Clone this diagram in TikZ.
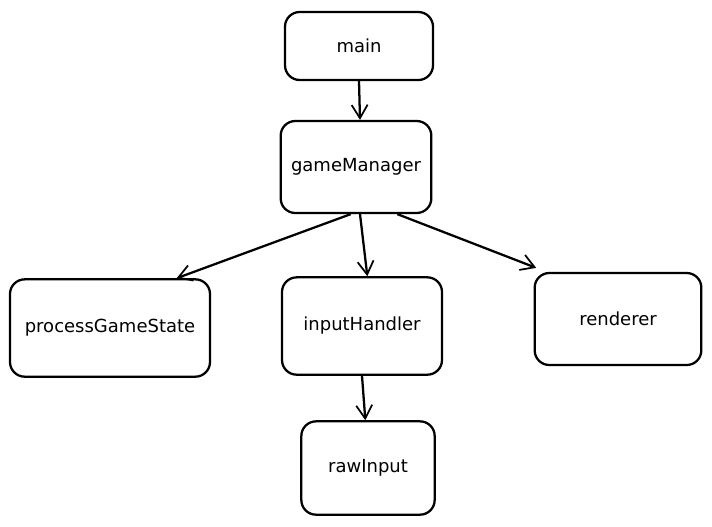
\documentclass[tikz,border=0pt]{standalone}
\usepackage{fontspec}
\setmainfont{DejaVu Sans}
\usepackage{tikz}
\usetikzlibrary{positioning,arrows.meta}
\tikzset{every picture/.style={line width=1.7pt}}
\tikzset{box/.style={draw,rounded corners=11pt,inner sep=0pt,font=\fontsize{13.5}{16}\selectfont},
  arr/.style={-{Straight Barb[length=10pt,width=12pt,line width=1.3pt]}}}

\begin{document}
\begin{tikzpicture}[x=0.75pt,y=0.75pt,yscale=-1,xscale=1]

\useasboundingbox (0,0) rectangle (712,526);

% Text Node
\node [box,minimum width=111pt,minimum height=51pt] (main) at (359,46) {main};
% Text Node
\node [box,minimum width=113pt,minimum height=69pt] (gm) at (356,167) {gameManager};
% Text Node
\node [box,minimum width=150pt,minimum height=73pt] (pgs) at (110,328) {processGameState};
% Text Node
\node [box,minimum width=120pt,minimum height=73pt] (ih) at (362,326) {inputHandler};
% Text Node
\node [box,minimum width=125pt,minimum height=69pt] (rend) at (618,319) {renderer};
% Text Node
\node [box,minimum width=100pt,minimum height=70pt] (raw) at (368,468) {rawInput};

%Straight Lines
\draw [arr] (main.south) -- ([xshift=3pt]gm.north);
%Straight Lines
\draw [arr] ([xshift=-4pt]gm.south) -- ([xshift=50pt]pgs.north);
%Straight Lines
\draw [arr] ([xshift=3pt]gm.south) -- ([xshift=4pt]ih.north);
%Straight Lines
\draw [arr] ([xshift=31pt]gm.south) -- ([xshift=2pt,yshift=-3pt]rend.north west);
%Straight Lines
\draw [arr] (ih.south) -- ([xshift=-2pt]raw.north);

\end{tikzpicture}
\end{document}
